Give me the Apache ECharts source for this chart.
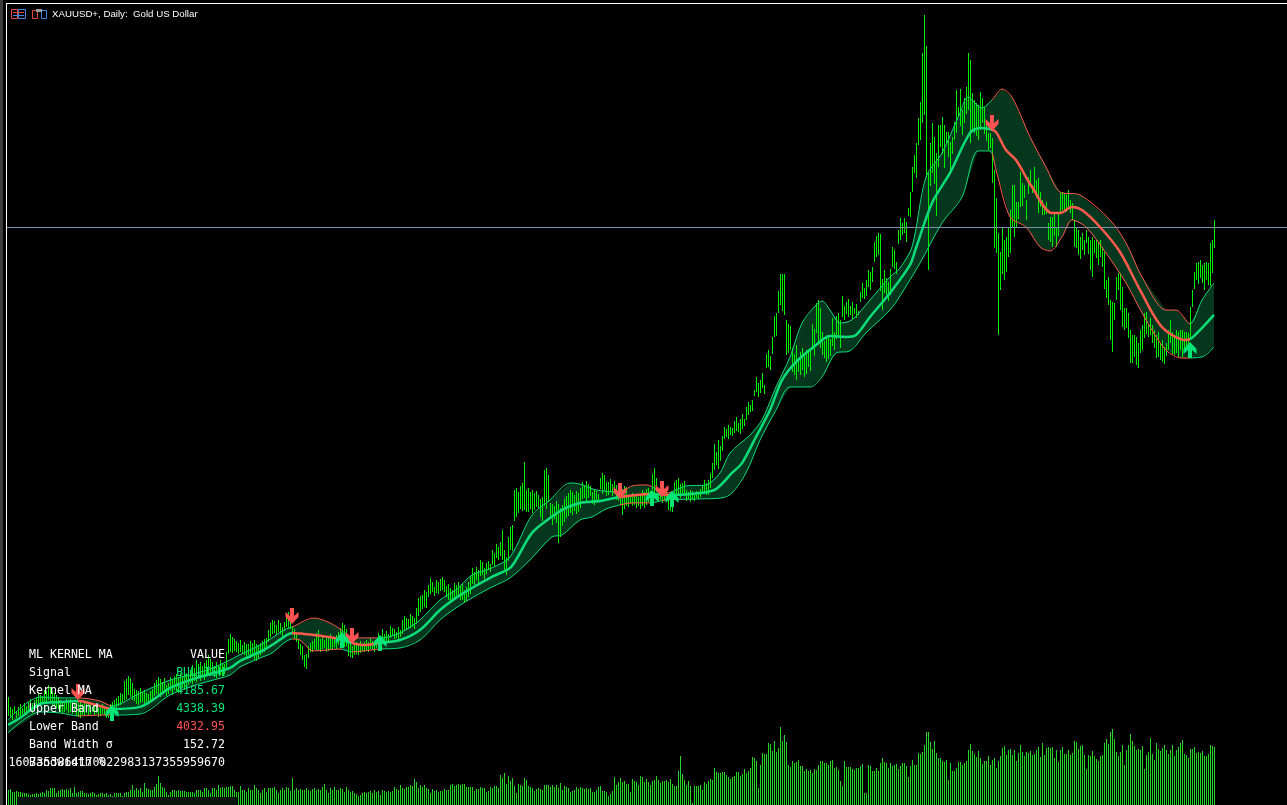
<!DOCTYPE html>
<html>
<head>
<meta charset="utf-8">
<title>XAUUSD+ Daily</title>
<style>
html, body { margin: 0; padding: 0; background: #000; }
#main { width: 1287px; height: 805px; }
</style>
<script src="https://cdn.jsdelivr.net/npm/echarts@6/dist/echarts.min.js"></script>
</head>
<body>
<div id="main"></div>
<script>
// daily bar highs, one row = 10 bars
var highs = [
2363,2316,2306,2320,2297,2316,2330,2311,2335,2320,
2340,2354,2335,2349,2363,2387,2373,2368,2397,2392,
2420,2411,2392,2382,2373,2363,2349,2344,2335,2354,
2344,2354,2340,2335,2349,2335,2344,2330,2339,2335,
2330,2325,2316,2330,2320,2311,2325,2330,2316,2306,
2316,2330,2340,2349,2359,2368,2382,2378,2440,2450,
2463,2454,2430,2401,2397,2392,2406,2387,2397,2382,
2378,2392,2401,2430,2444,2459,2449,2435,2454,2420,
2430,2459,2444,2463,2473,2454,2478,2463,2483,2478,
2506,2492,2516,2502,2540,2521,2530,2511,2526,2540,
2564,2545,2530,2511,2530,2516,2540,2526,2521,2578,
2640,2664,2649,2640,2630,2621,2635,2611,2626,2616,
2616,2630,2621,2635,2616,2611,2621,2630,2640,2645,
2683,2716,2731,2726,2707,2731,2716,2697,2721,2759,
2769,2754,2702,2688,2664,2640,2616,2607,2564,2569,
2606,2621,2630,2640,2669,2683,2640,2654,2635,2650,
2645,2664,2640,2649,2659,2673,2692,2716,2707,2688,
2630,2621,2607,2611,2626,2616,2630,2621,2626,2635,
2626,2645,2630,2621,2640,2669,2654,2688,2664,2678,
2664,2702,2692,2688,2673,2697,2681,2731,2750,2740,
2735,2759,2750,2740,2788,2835,2845,2850,2874,2864,
2897,2931,2912,2888,2921,2912,2926,2935,2921,2893,
2902,2883,2874,2907,2897,2912,2893,2902,2874,2888,
2912,2940,2978,2960,2983,2969,3017,3007,2978,3002,
3012,2998,3064,3050,3093,3078,3102,3160,3064,3031,
3126,3174,3183,3351,3360,3341,3370,3384,3484,3351,
3360,3341,3351,3336,3346,3327,3308,3317,3446,3456,
3422,3289,3284,3274,3298,3284,3265,3279,3308,3322,
3336,3351,3341,3327,3346,3336,3360,3389,3375,3394,
3380,3370,3341,3355,3346,3332,3408,3432,3423,3389,
3389,3403,3380,3394,3375,3385,3360,3355,3370,3365,
3327,3322,3336,3327,3331,3317,3327,3351,3341,3355,
3360,3346,3427,3456,3408,3351,3341,3355,3346,3360,
3322,3327,3312,3389,3398,3408,3379,3384,3394,3351,
3340,3351,3346,3336,3346,3332,3355,3375,3398,3384,
3398,3432,3480,3570,3532,3589,3561,3608,3651,3641,
3660,3651,3646,3680,3699,3670,3689,3713,3689,3746,
3770,3756,3780,3828,3890,3862,3876,3909,3851,4000,
4018,3990,4080,4181,4195,4300,4381,4381,4381,4162,
4143,4133,4030,4000,4040,3980,4010,4030,3995,4020,
4010,4029,4143,4120,4243,4257,4220,4105,4062,4090,
4085,4070,4170,4105,4181,4195,4162,4276,4230,4248,
4262,4230,4248,4219,4238,4205,4295,4340,4315,4350,
4400,4390,4416,4535,4560,4575,4570,4355,4400,4360,
4345,4405,4510,4495,4440,4590,
4646,4622,4646,4630,4694,4773,4893,4948,5004,5123,
5203,5433,5616,5468,4861,5004,5099,5036,4956,5091,
5091,5131,5091,5060,5060,5012,5036,5107,5258,5179,
5262,5163,5219,5274,5433,5402,5243,5211,5195,5187,
5250,5219,5179,5099,5052,5052,5028,4877,4742,4575,
4487,4607,4543,4559,4607,4686,4805,4805,4726,4726,
4869,4813,4805,4734,4845,4877,4805,4893,4829,4837,
4773,4734,4702,4726,4622,4654,4654,4670,4607,4670,
4765,4773,4765,4758,4781,4734,4718,4638,4599,4591,
4559,4575,4543,4591,4559,4543,4559,4543,4543,4527,
4543,4511,4487,4352,4368,4257,4249,4241,4368,4384,
4384,4320,4217,4217,4193,4114,4090,4090,4082,4050,
4114,4137,4193,4201,4137,4169,4137,4114,4090,4106,
4050,4066,4034,4050,4114,4161,4106,4090,4114,4106,
4114,4114,4106,4106,4098,4225,4304,4392,4432,4440,
4447,4424,4432,4440,4432,4527,4543,4638
];
// daily bar lows, same order
var lows = [
2273,2263,2254,2282,2263,2273,2273,2282,2287,2277,
2292,2301,2287,2306,2311,2320,2325,2335,2340,2335,
2349,2339,2325,2320,2311,2306,2292,2287,2292,2301,
2287,2292,2282,2297,2273,2268,2263,2277,2273,2287,
2273,2282,2292,2277,2287,2268,2273,2282,2277,2263,
2263,2273,2287,2297,2306,2320,2325,2340,2349,2354,
2373,2363,2349,2344,2330,2325,2335,2339,2330,2335,
2335,2344,2349,2368,2378,2373,2363,2373,2382,2368,
2378,2392,2373,2397,2392,2382,2401,2406,2397,2411,
2420,2430,2425,2440,2435,2449,2440,2454,2444,2459,
2468,2463,2478,2459,2454,2473,2468,2463,2473,2492,
2569,2578,2573,2583,2578,2569,2578,2573,2564,2559,
2564,2549,2559,2540,2535,2549,2564,2573,2578,2587,
2626,2650,2664,2669,2659,2673,2664,2654,2678,2697,
2692,2688,2659,2640,2626,2592,2564,2540,2507,2497,
2549,2578,2578,2592,2583,2587,2578,2592,2597,2578,
2583,2592,2587,2602,2592,2611,2607,2597,2602,2607,
2559,2554,2549,2564,2569,2564,2573,2583,2578,2587,
2578,2592,2587,2578,2597,2607,2592,2621,2611,2626,
2630,2645,2654,2640,2645,2635,2649,2664,2678,2683,
2688,2692,2697,2688,2711,2750,2769,2783,2793,2788,
2840,2855,2864,2845,2859,2855,2869,2874,2864,2840,
2826,2821,2816,2835,2831,2845,2826,2826,2816,2821,
2840,2855,2902,2897,2921,2902,2940,2945,2926,2950,
2969,2959,2993,2983,3026,3017,3036,3017,2960,2945,
3012,3064,3059,3202,3222,3240,3260,3250,3255,3245,
3245,3260,3240,3255,3269,3265,3222,3202,3274,3260,
3293,3212,3183,3212,3193,3098,3126,3179,3198,3217,
3226,3240,3231,3250,3236,3245,3265,3308,3312,3298,
3312,3322,3284,3279,3293,3303,3355,3331,3346,3322,
3327,3341,3322,3331,3303,3298,3279,3231,3260,3274,
3269,3284,3274,3279,3265,3274,3260,3274,3265,3279,
3293,3288,3351,3331,3341,3293,3303,3288,3298,3293,
3255,3250,3246,3317,3327,3322,3312,3327,3322,3298,
3308,3293,3303,3298,3312,3308,3317,3331,3341,3327,
3327,3360,3408,3446,3470,3451,3489,3537,3594,3603,
3594,3613,3608,3622,3632,3627,3618,3641,3656,3684,
3708,3722,3727,3799,3818,3794,3813,3837,3809,3935,
3937,3923,4000,4080,4085,4195,4232,4205,4186,3995,
4005,4018,3915,3900,3875,3912,3900,3923,3890,3905,
3940,3920,4019,3990,4100,4052,4029,3995,3980,3960,
3975,3990,4035,4020,4070,4080,4029,4175,4165,4190,
4176,4186,4167,4190,4170,4185,4245,4270,4262,4275,
4320,4305,4345,4440,4460,4470,4300,4205,4290,4280,
4255,4280,4415,4405,4385,4525,
4543,4567,4575,4535,4654,4654,4773,4861,4837,4996,
5020,5099,5139,4845,4400,4797,4861,4813,4654,4893,
4988,4956,4885,5004,4940,4861,4956,5020,5052,5131,
5084,5044,5099,5147,5163,5004,5068,5052,5036,5020,
5068,5099,5052,5012,4972,4980,4813,4503,4479,4090,
4304,4384,4352,4392,4463,4479,4607,4559,4607,4646,
4702,4702,4742,4638,4765,4797,4765,4773,4742,4670,
4702,4662,4662,4670,4543,4535,4511,4559,4511,4559,
4670,4686,4686,4678,4702,4670,4638,4511,4503,4471,
4455,4495,4471,4527,4479,4400,4368,4479,4455,4424,
4463,4416,4312,4265,4233,4066,4010,4161,4257,4304,
4209,4130,4114,4122,4074,3955,3955,3986,3947,3931,
4002,4018,4074,4098,4082,4090,4050,4026,3978,3986,
3970,3963,3955,3986,4018,4050,4002,3994,4002,3986,
4018,3986,4026,4034,4018,4066,4225,4312,4352,4336,
4360,4336,4304,4352,4328,4320,4384,4503
];
// tick volume, same order
var volumes = [
15,16,13,13,14,13,13,12,12,12,
11,10,11,11,12,11,12,13,12,15,
14,17,17,17,12,14,15,16,15,16,
15,17,12,18,12,13,14,14,12,12,
11,12,13,12,10,11,12,12,11,12,
10,11,9,12,12,12,12,9,12,13,
13,15,20,15,17,15,17,13,22,17,
16,15,15,18,21,29,22,18,17,13,
10,13,15,15,14,15,14,14,14,13,
13,13,13,12,15,15,15,13,17,17,
15,12,17,17,15,20,17,18,17,18,
18,19,19,15,13,13,19,15,15,13,
17,15,15,20,17,15,12,15,17,13,
17,17,17,18,15,12,15,17,15,18,
17,14,27,15,17,15,16,15,15,17,
15,14,16,17,15,16,15,18,21,15,
12,17,15,18,15,15,17,16,13,18,
15,13,14,12,11,9,10,12,13,12,
13,14,12,15,13,14,10,15,14,13,
14,13,14,18,16,15,20,17,16,18,
18,20,19,26,23,17,20,18,20,17,
16,12,16,14,15,13,14,14,16,15,15,
20,21,19,20,21,20,21,21,18,18,18,18,
14,16,16,18,17,17,13,14,18,17,19,19,17,
30,27,32,21,29,24,27,19,12,21,20,19,27,25,19,18,17,14,16,17,16,15,
20,20,20,18,20,18,20,17,22,15,19,18,17,13,
14,15,18,16,18,17,16,17,16,17,
13,13,15,18,19,14,14,13,9,11,
14,28,20,23,27,23,24,21,21,13,
26,24,23,20,29,28,23,26,23,20,
24,25,29,25,22,24,24,25,23,26,
21,19,19,34,49,31,25,20,24,19,
2,19,19,19,20,15,23,21,24,26,
25,37,33,32,32,33,33,30,28,26,
28,29,33,33,29,31,36,32,34,37,
48,47,44,17,40,52,51,51,62,61,
54,64,53,57,78,64,70,63,40,38,
44,42,43,45,39,39,34,36,34,35,
32,36,35,40,44,44,42,42,40,44,
45,37,38,35,24,19,44,38,38,38,
36,35,37,37,39,41,12,12,40,39,
34,34,37,34,42,47,43,42,37,42,
39,40,41,36,
39,42,42,39,28,39,45,40,40,52,
51,53,60,73,73,63,56,64,52,47,
47,44,43,45,25,42,34,34,37,43,
43,40,42,44,55,61,54,51,48,54,
47,41,44,44,49,40,45,47,37,44,
49,57,59,50,55,56,50,55,44,52,
60,53,49,53,52,54,50,51,55,58,
48,62,50,57,58,57,58,47,55,43,
55,58,51,51,55,50,52,64,63,56,
59,60,50,36,50,49,54,49,46,44,
49,50,62,66,61,73,76,66,53,49,
53,60,40,55,60,71,64,59,55,56,
55,59,36,50,53,67,51,45,62,56,
54,57,60,55,51,55,60,49,55,58,
62,65,51,50,47,56,56,58,52,53,
52,54,49,49,51,60,59,58
];

// kernel ma and bands, read at the bar numbers listed
var kernelBars = [0,6,16,26,35,46,52,66,81,91,101,111,116,126,132,138,142,148,153,160,166,172,178,186,196,206,216,224,232,242,251,254,262,271,279,286,296,306,321,332,346,354,362,367,374,381,387,394,404,411,419,424,431,441,451,454,462,471,481,486,491,494,499,504,512,522,526,532,537,546,556,566,577,589,592,603];
var kernelPrices = [2230,2263,2330,2339,2344,2320,2306,2316,2406,2444,2473,2502,2535,2578,2611,2650,2669,2664,2659,2650,2640,2621,2611,2621,2635,2683,2778,2836,2883,2936,2979,3017,3146,3217,3265,3289,3298,3317,3332,3327,3336,3355,3432,3479,3604,3732,3875,3961,4042,4085,4081,4090,4176,4290,4424,4505,4720,4863,5054,5077,5073,5058,4972,4925,4796,4672,4672,4701,4686,4605,4486,4305,4128,4066,4076,4186];
var upperBars = [0,16,26,35,46,52,66,81,91,101,111,116,126,132,138,142,153,160,166,172,178,186,196,206,216,224,232,242,251,262,271,281,286,294,306,312,319,329,339,349,356,361,371,377,384,391,397,404,407,411,416,422,431,441,446,452,459,467,476,480,487,492,497,502,511,519,526,536,551,559,567,579,584,591,597,603];
var upperPrices = [2254,2363,2359,2359,2344,2320,2382,2444,2468,2497,2540,2565,2611,2645,2683,2697,2740,2721,2688,2645,2645,2645,2669,2731,2826,2874,2945,2979,3031,3231,3303,3384,3379,3351,3341,3370,3375,3336,3370,3375,3432,3527,3613,3685,3842,3985,4147,4233,4252,4209,4147,4162,4257,4367,4410,4510,4844,4958,5149,5225,5173,5211,5263,5225,5035,4891,4772,4758,4639,4529,4367,4209,4209,4143,4257,4338];
var lowerBars = [0,16,26,35,46,52,66,81,91,101,111,116,126,132,138,142,146,151,153,166,172,178,186,196,206,216,224,232,242,251,261,272,277,286,292,299,306,312,321,329,346,357,362,369,376,384,391,401,407,414,421,429,441,446,456,467,477,485,491,494,501,509,516,521,527,532,539,549,559,569,579,587,597,603];
var lowerPrices = [2192,2292,2287,2273,2277,2277,2282,2373,2411,2440,2468,2506,2549,2573,2621,2640,2635,2588,2583,2592,2578,2583,2592,2597,2635,2731,2788,2836,2888,2931,3017,3127,3136,3208,3222,3260,3279,3289,3289,3303,3308,3313,3336,3432,3589,3732,3842,3842,3890,4004,4014,4100,4209,4276,4433,4624,4748,4968,4968,4877,4653,4605,4510,4491,4558,4639,4605,4481,4338,4162,4018,3980,3985,4033];

// signal arrows
var sellBars = [35,142,172,306,327,492];
var sellPrices = [2387,2750,2654,3346,3355,5101];
var buyBars = [52,167,186,322,332,591];
var buyPrices = [2287,2635,2621,3312,3308,4018];

var priceLine = 4605;

var tableLabels = ['Signal','Kernel MA','Upper Band','Lower Band','Band Width σ','Bandwidth %'];
var tableValues = ['BULLISH','4185.67','4338.39','4032.95','152.72','1607353864170022983137355959670'];
var tableColors = ['#00e676','#00e676','#00e676','#ff5252','#ffffff','#ffffff'];

var upColor = '#0cdc78';
var downColor = '#ff5a4c';
var bandColor = '#05371e';
var lineSmooth = 0.3;

var myChart = echarts.init(document.getElementById('main'));

// empty bars on the right so the price line runs to the window edge
var categories = [];
for (var i = 0; i < 640; i++) {
    categories.push(i);
}

function pairs(bars, prices) {
    return bars.map(function (b, k) { return [b, prices[k]]; });
}

var barData = highs.map(function (h, k) { return [k, lows[k], h]; });
var volumeData = volumes.map(function (v, k) { return [k, v]; });

function renderBand(params, api) {
    var points = [];
    for (var k = 0; k < upperBars.length; k++) {
        points.push(api.coord([upperBars[k], upperPrices[k]]));
    }
    for (var k = lowerBars.length - 1; k >= 0; k--) {
        points.push(api.coord([lowerBars[k], lowerPrices[k]]));
    }
    return { type: 'polygon', shape: { points: points }, style: { fill: bandColor } };
}

// 1px wide bars on whole pixels, otherwise they go blurry
function renderBar(params, api) {
    var a = api.coord([api.value(0), api.value(2)]);
    var b = api.coord([api.value(0), api.value(1)]);
    return {
        type: 'rect',
        shape: { x: Math.round(a[0]), y: Math.round(a[1]), width: 1, height: Math.max(1, Math.round(b[1] - a[1])) },
        style: { fill: '#00ee00' }
    };
}

function renderVolume(params, api) {
    var a = api.coord([api.value(0), api.value(1)]);
    var b = api.coord([api.value(0), 0]);
    return {
        type: 'rect',
        shape: { x: Math.round(a[0]), y: Math.round(a[1]), width: 1, height: Math.round(b[1] - a[1]) },
        style: { fill: '#26d426' }
    };
}

// colour of kernel and bands: red between a sell arrow and the next buy arrow
var pieces = [];
var from = 0;
sellBars.forEach(function (s, k) {
    pieces.push({ gte: from, lt: s, color: upColor });
    pieces.push({ gte: s, lt: buyBars[k], color: downColor });
    from = buyBars[k];
});
pieces.push({ gte: from, lte: 640, color: upColor });

function bandLine(name, data, width, z) {
    return {
        name: name,
        type: 'line',
        data: data,
        yAxisIndex: 0,
        showSymbol: false,
        smooth: lineSmooth,
        silent: true,
        z: z,
        lineStyle: { width: width }
    };
}

var arrowPath = 'path://M4.5 0H8.5V8L13 4V9L6.5 16L0 9V4L4.5 8Z';

// table, title and window frame
var graphics = [
    { type: 'rect', z: 90, shape: { x: 0, y: 0, width: 3, height: 805 }, style: { fill: '#3c3c3c' } },
    { type: 'rect', z: 90, shape: { x: 6, y: 3, width: 1, height: 802 }, style: { fill: '#ffffff' } },
    { type: 'rect', z: 90, shape: { x: 6, y: 3, width: 1281, height: 1 }, style: { fill: '#ffffff' } },
    { type: 'rect', z: 90, shape: { x: 17, y: 797, width: 220, height: 8 }, style: { fill: '#07150e' } },
    { type: 'rect', z: 91, shape: { x: 11.5, y: 9.5, width: 6, height: 9 }, style: { fill: 'none', stroke: '#e5483f' } },
    { type: 'rect', z: 91, shape: { x: 18.5, y: 9.5, width: 7, height: 9 }, style: { fill: 'none', stroke: '#3f86e5' } },
    { type: 'rect', z: 91, shape: { x: 13, y: 12, width: 11, height: 1 }, style: { fill: '#e5483f' } },
    { type: 'rect', z: 91, shape: { x: 13, y: 15, width: 11, height: 1 }, style: { fill: '#3f86e5' } },
    { type: 'rect', z: 91, shape: { x: 32.5, y: 10.5, width: 5, height: 8 }, style: { fill: 'none', stroke: '#e5483f' } },
    { type: 'rect', z: 91, shape: { x: 41.5, y: 10.5, width: 5, height: 8 }, style: { fill: 'none', stroke: '#3f86e5' } },
    { type: 'rect', z: 91, shape: { x: 36, y: 9, width: 6, height: 3 }, style: { fill: '#9a9a9a' } },
    {
        type: 'text', z: 91, x: 52, y: 14.5,
        style: { text: 'XAUUSD+, Daily:  Gold US Dollar', fill: '#ffffff', font: '9.7px "Liberation Sans"', verticalAlign: 'middle' }
    },
    {
        type: 'text', z: 92, x: 29, y: 655,
        style: { text: 'ML KERNEL MA', fill: '#ffffff', font: '11.6px "DejaVu Sans Mono"', verticalAlign: 'middle' }
    },
    {
        type: 'text', z: 92, x: 225, y: 655,
        style: { text: 'VALUE', fill: '#ffffff', font: '11.6px "DejaVu Sans Mono"', align: 'right', verticalAlign: 'middle' }
    }
];
tableLabels.forEach(function (t, k) {
    graphics.push({
        type: 'text', z: 92, x: 29, y: 673 + k * 18,
        style: { text: t, fill: '#ffffff', font: '11.6px "DejaVu Sans Mono"', verticalAlign: 'middle' }
    });
    graphics.push({
        type: 'text', z: 92, x: 225, y: 673 + k * 18,
        style: { text: tableValues[k], fill: tableColors[k], font: '11.6px "DejaVu Sans Mono"', align: 'right', verticalAlign: 'middle' }
    });
});

var option = {
    backgroundColor: '#000000',
    animation: false,
    tooltip: { show: false },
    grid: { left: 7, top: 0, width: 1280, height: 805 },
    xAxis: { type: 'category', data: categories, show: false, boundaryGap: true },
    yAxis: [
        { type: 'value', min: 1848, max: 5688, show: false, splitLine: { show: false } },
        { type: 'value', min: 0, max: 805, show: false, splitLine: { show: false } }
    ],
    visualMap: { show: false, type: 'piecewise', dimension: 0, seriesIndex: [3, 4, 5], pieces: pieces },
    series: [
        {
            name: 'band',
            type: 'custom',
            renderItem: renderBand,
            data: [[0, 0]],
            silent: true,
            z: 1,
            markLine: {
                silent: true,
                symbol: 'none',
                label: { show: false },
                lineStyle: { color: '#7f90ab', width: 1, type: 'solid' },
                data: [{ yAxis: priceLine }]
            }
        },
        {
            name: 'bars',
            type: 'custom',
            renderItem: renderBar,
            data: barData,
            silent: true,
            z: 3
        },
        {
            name: 'volume',
            type: 'custom',
            renderItem: renderVolume,
            yAxisIndex: 1,
            data: volumeData,
            silent: true,
            z: 3
        },
        bandLine('upper', pairs(upperBars, upperPrices), 1, 4),
        bandLine('lower', pairs(lowerBars, lowerPrices), 1, 4),
        bandLine('kernel', pairs(kernelBars, kernelPrices), 2.5, 5),
        {
            name: 'sell',
            type: 'scatter',
            data: pairs(sellBars, sellPrices),
            symbol: arrowPath,
            symbolSize: [13, 16],
            itemStyle: { color: '#ff5252', opacity: 1 },
            silent: true,
            z: 6
        },
        {
            name: 'buy',
            type: 'scatter',
            data: pairs(buyBars, buyPrices),
            symbol: arrowPath,
            symbolRotate: 180,
            symbolSize: [13, 16],
            itemStyle: { color: '#00e676', opacity: 1 },
            silent: true,
            z: 6
        }
    ],
    graphic: graphics
};
myChart.setOption(option);
</script>
</body>
</html>
